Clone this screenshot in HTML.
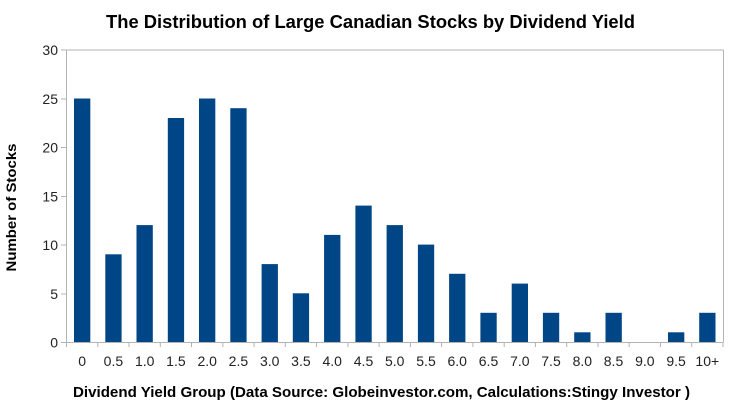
<!DOCTYPE html>
<html><head><meta charset="utf-8"><style>
html,body{margin:0;padding:0;background:#fff;}
svg{display:block;}
</style></head><body>
<svg width="737" height="407" viewBox="0 0 737 407" xmlns="http://www.w3.org/2000/svg" font-family="Liberation Sans, Arial, sans-serif">
<rect width="737" height="407" fill="#fff"/>
<text x="370.5" y="28" text-anchor="middle" font-size="18" font-weight="bold" fill="#000" textLength="529" lengthAdjust="spacingAndGlyphs">The Distribution of Large Canadian Stocks by Dividend Yield</text>
<!-- plot frame -->
<g stroke="#b3b3b3" stroke-width="1" fill="none">
<line x1="66.5" y1="50" x2="723.5" y2="50"/>
<line x1="723.5" y1="50" x2="723.5" y2="342"/>
<line x1="66.5" y1="50" x2="66.5" y2="342"/>
<line x1="61" y1="342.5" x2="723.5" y2="342.5"/>
<line x1="61" y1="50" x2="66.5" y2="50"/>
<line x1="61" y1="99" x2="66.5" y2="99"/>
<line x1="61" y1="147.5" x2="66.5" y2="147.5"/>
<line x1="61" y1="196.5" x2="66.5" y2="196.5"/>
<line x1="61" y1="245" x2="66.5" y2="245"/>
<line x1="61" y1="294" x2="66.5" y2="294"/>
<line x1="61" y1="342.5" x2="66.5" y2="342.5"/>
</g>
<g stroke="#b3b3b3" stroke-width="1">
<line x1="66.5" y1="342" x2="66.5" y2="347"/>
<line x1="97.8" y1="342" x2="97.8" y2="347"/>
<line x1="129" y1="342" x2="129" y2="347"/>
<line x1="160.3" y1="342" x2="160.3" y2="347"/>
<line x1="191.5" y1="342" x2="191.5" y2="347"/>
<line x1="222.8" y1="342" x2="222.8" y2="347"/>
<line x1="254.1" y1="342" x2="254.1" y2="347"/>
<line x1="285.3" y1="342" x2="285.3" y2="347"/>
<line x1="316.6" y1="342" x2="316.6" y2="347"/>
<line x1="347.9" y1="342" x2="347.9" y2="347"/>
<line x1="379.1" y1="342" x2="379.1" y2="347"/>
<line x1="410.4" y1="342" x2="410.4" y2="347"/>
<line x1="441.6" y1="342" x2="441.6" y2="347"/>
<line x1="472.9" y1="342" x2="472.9" y2="347"/>
<line x1="504.2" y1="342" x2="504.2" y2="347"/>
<line x1="535.4" y1="342" x2="535.4" y2="347"/>
<line x1="566.7" y1="342" x2="566.7" y2="347"/>
<line x1="598" y1="342" x2="598" y2="347"/>
<line x1="629.2" y1="342" x2="629.2" y2="347"/>
<line x1="660.5" y1="342" x2="660.5" y2="347"/>
<line x1="691.7" y1="342" x2="691.7" y2="347"/>
<line x1="723" y1="342" x2="723" y2="347"/>
</g>
<!-- bars -->
<g fill="#004586">
<rect x="74" y="98.5" width="16.3" height="243.5"/>
<rect x="105.3" y="254.3" width="16.3" height="87.7"/>
<rect x="136.5" y="225.1" width="16.3" height="116.9"/>
<rect x="167.8" y="118" width="16.3" height="224"/>
<rect x="199" y="98.5" width="16.3" height="243.5"/>
<rect x="230.3" y="108.2" width="16.3" height="233.8"/>
<rect x="261.6" y="264.1" width="16.3" height="77.9"/>
<rect x="292.8" y="293.3" width="16.3" height="48.7"/>
<rect x="324.1" y="234.9" width="16.3" height="107.1"/>
<rect x="355.4" y="205.6" width="16.3" height="136.4"/>
<rect x="386.6" y="225.1" width="16.3" height="116.9"/>
<rect x="417.9" y="244.6" width="16.3" height="97.4"/>
<rect x="449.1" y="273.8" width="16.3" height="68.2"/>
<rect x="480.4" y="312.8" width="16.3" height="29.2"/>
<rect x="511.7" y="283.6" width="16.3" height="58.4"/>
<rect x="542.9" y="312.8" width="16.3" height="29.2"/>
<rect x="574.2" y="332.3" width="16.3" height="9.7"/>
<rect x="605.5" y="312.8" width="16.3" height="29.2"/>
<rect x="668" y="332.3" width="16.3" height="9.7"/>
<rect x="699.2" y="312.8" width="16.3" height="29.2"/>
</g>
<!-- y labels -->
<g font-size="14" fill="#222" text-anchor="end">
<text x="58" y="55">30</text>
<text x="58" y="104">25</text>
<text x="58" y="152.5">20</text>
<text x="58" y="201.5">15</text>
<text x="58" y="250">10</text>
<text x="58" y="299">5</text>
<text x="58" y="347.5">0</text>
</g>
<!-- x labels -->
<g font-size="14" fill="#222" text-anchor="middle">
<text x="82.1" y="366">0</text>
<text x="113.4" y="366">0.5</text>
<text x="144.7" y="366">1.0</text>
<text x="175.9" y="366">1.5</text>
<text x="207.2" y="366">2.0</text>
<text x="238.4" y="366">2.5</text>
<text x="269.7" y="366">3.0</text>
<text x="300.9" y="366">3.5</text>
<text x="332.2" y="366">4.0</text>
<text x="363.5" y="366">4.5</text>
<text x="394.7" y="366">5.0</text>
<text x="426" y="366">5.5</text>
<text x="457.2" y="366">6.0</text>
<text x="488.5" y="366">6.5</text>
<text x="519.8" y="366">7.0</text>
<text x="551" y="366">7.5</text>
<text x="582.3" y="366">8.0</text>
<text x="613.5" y="366">8.5</text>
<text x="644.8" y="366">9.0</text>
<text x="676.1" y="366">9.5</text>
<text x="707.3" y="366">10+</text>
</g>
<text x="381.5" y="397" text-anchor="middle" font-size="15" font-weight="bold" fill="#000" textLength="617" lengthAdjust="spacingAndGlyphs">Dividend Yield Group (Data Source: Globeinvestor.com, Calculations:Stingy Investor )</text>
<text transform="translate(16,207.5) rotate(-90)" text-anchor="middle" font-size="14" font-weight="bold" fill="#000" textLength="128" lengthAdjust="spacingAndGlyphs">Number of Stocks</text>
</svg>
</body></html>
